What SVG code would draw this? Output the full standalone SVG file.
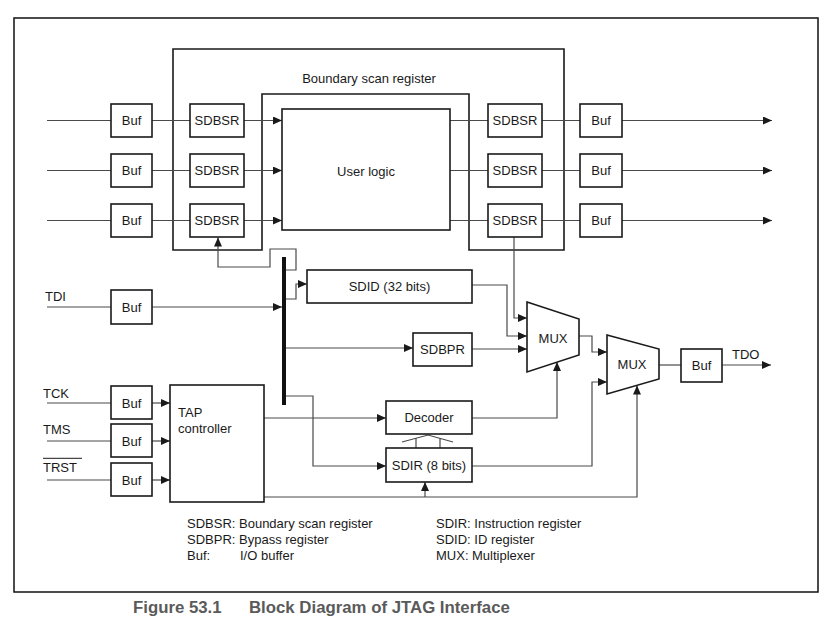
<svg xmlns="http://www.w3.org/2000/svg" width="837" height="625" viewBox="0 0 837 625">
<defs>
<style>
.box{fill:#fff;stroke:#1a1a1a;stroke-width:1.6}
.outline{fill:none;stroke:#1a1a1a;stroke-width:1.6}
.frame{fill:none;stroke:#111;stroke-width:1.5}
.ln{fill:none;stroke:#4a4a4a;stroke-width:1.2}
.arr{marker-end:url(#ah)}
.t{font-family:"Liberation Sans",Arial,sans-serif;font-size:13px;fill:#1a1a1a}
.c{text-anchor:middle}
.cap{font-family:"Liberation Sans",Arial,sans-serif;font-size:16.8px;font-weight:bold;fill:#5a5a5a}
</style>
<marker id="ah" markerUnits="userSpaceOnUse" markerWidth="9" markerHeight="8" refX="9" refY="4" orient="auto">
<path d="M0,0 L9,4 L0,8 z" fill="#1a1a1a"/>
</marker>
</defs>
<rect width="837" height="625" fill="#fff"/>
<rect class="frame" x="14" y="18" width="804" height="574"/>

<g id="boundary-scan-register">
<path class="outline" d="M173 49H564V250H469V94H262V250H173Z"/>
<text class="t c" x="369" y="82.5">Boundary scan register</text>
</g>

<g id="connectors">
<path class="ln" d="M47 120.5H111M47 170.5H111M47 220.5H111"/>
<path class="ln" d="M152 120.5H190M152 170.5H190M152 220.5H190"/>
<path class="ln arr" d="M244 120.5H282"/>
<path class="ln arr" d="M244 170.5H282"/>
<path class="ln arr" d="M244 220.5H282"/>
<path class="ln" d="M450 120.5H488M450 170.5H488M450 220.5H488"/>
<path class="ln" d="M542 120.5H580M542 170.5H580M542 220.5H580"/>
<path class="ln arr" d="M622 120.5H772"/>
<path class="ln arr" d="M622 170.5H772"/>
<path class="ln arr" d="M622 220.5H772"/>
<path class="ln" d="M47 307H111"/>
<path class="ln arr" d="M152 307H282"/>
<path class="ln arr" d="M286 270H296V249H270V267H218V237.5"/>
<path class="ln arr" d="M286 299H296V284H307"/>
<path class="ln arr" d="M286 348H413"/>
<path class="ln arr" d="M286 396H313V466H386"/>
<path class="ln arr" d="M264 418H386"/>
<path class="ln" d="M47 403H111M47 441H111M47 480H111"/>
<path class="ln arr" d="M152 403H170"/>
<path class="ln arr" d="M152 441H170"/>
<path class="ln arr" d="M152 480H170"/>
<path class="ln arr" d="M514 237V318H527"/>
<path class="ln arr" d="M472 285H507V336H527"/>
<path class="ln arr" d="M472 349H527"/>
<path class="ln arr" d="M472 418H557V362"/>
<path class="ln arr" d="M579 336H592V352H607"/>
<path class="ln arr" d="M472 466H592V382H607"/>
<path class="ln arr" d="M264 497H637V385.5"/>
<path class="ln arr" d="M425 497V482"/>
<path class="ln" d="M659 365H681"/>
<path class="ln arr" d="M722 365H771"/>
<path class="ln" d="M402 442L428 435L453 442M416 448V438.2M440 448V438.2"/>
<rect id="bus" x="282" y="257" width="4" height="148" fill="#111"/>
</g>

<g id="user-logic">
<rect class="box" x="282" y="109" width="168" height="121"/>
<text class="t c" x="366" y="175.5">User logic</text>
</g>

<g id="buf-in-1"><rect class="box" x="111" y="104" width="41" height="33"/><text class="t c" x="131.5" y="125">Buf</text></g>
<g id="buf-in-2"><rect class="box" x="111" y="154" width="41" height="33"/><text class="t c" x="131.5" y="175">Buf</text></g>
<g id="buf-in-3"><rect class="box" x="111" y="204" width="41" height="33"/><text class="t c" x="131.5" y="225">Buf</text></g>

<g id="sdbsr-l1"><rect class="box" x="190" y="104" width="54" height="33"/><text class="t c" x="217" y="125">SDBSR</text></g>
<g id="sdbsr-l2"><rect class="box" x="190" y="154" width="54" height="33"/><text class="t c" x="217" y="175">SDBSR</text></g>
<g id="sdbsr-l3"><rect class="box" x="190" y="204" width="54" height="33"/><text class="t c" x="217" y="225">SDBSR</text></g>

<g id="sdbsr-r1"><rect class="box" x="488" y="104" width="54" height="33"/><text class="t c" x="515" y="125">SDBSR</text></g>
<g id="sdbsr-r2"><rect class="box" x="488" y="154" width="54" height="33"/><text class="t c" x="515" y="175">SDBSR</text></g>
<g id="sdbsr-r3"><rect class="box" x="488" y="204" width="54" height="33"/><text class="t c" x="515" y="225">SDBSR</text></g>

<g id="buf-out-1"><rect class="box" x="580" y="104" width="42" height="33"/><text class="t c" x="601" y="125">Buf</text></g>
<g id="buf-out-2"><rect class="box" x="580" y="154" width="42" height="33"/><text class="t c" x="601" y="175">Buf</text></g>
<g id="buf-out-3"><rect class="box" x="580" y="204" width="42" height="33"/><text class="t c" x="601" y="225">Buf</text></g>

<g id="tdi"><text class="t" x="45" y="301">TDI</text><rect class="box" x="111" y="290" width="41" height="34"/><text class="t c" x="131.5" y="311.5">Buf</text></g>

<g id="sdid"><rect class="box" x="307" y="270" width="165" height="33"/><text class="t c" x="389.5" y="291">SDID (32 bits)</text></g>
<g id="sdbpr"><rect class="box" x="413" y="333" width="59" height="33"/><text class="t c" x="442.5" y="354">SDBPR</text></g>
<g id="decoder"><rect class="box" x="386" y="401" width="86" height="33"/><text class="t c" x="429" y="422">Decoder</text></g>
<g id="sdir"><rect class="box" x="386" y="448" width="86" height="34"/><text class="t c" x="429" y="469.5">SDIR (8 bits)</text></g>

<g id="mux1"><polygon class="box" points="527,302 579,319 579,355 527,372"/><text class="t c" x="553" y="342.7">MUX</text></g>
<g id="mux2"><polygon class="box" points="607,335 659,349 659,379 607,394"/><text class="t c" x="632" y="368.7">MUX</text></g>

<g id="buf-tdo"><rect class="box" x="681" y="349" width="41" height="33"/><text class="t c" x="701.5" y="370">Buf</text><text class="t" x="732" y="359.3">TDO</text></g>

<g id="tck"><text class="t" x="43" y="397.7">TCK</text><rect class="box" x="111" y="386" width="41" height="33"/><text class="t c" x="131.5" y="407.5">Buf</text></g>
<g id="tms"><text class="t" x="43" y="434">TMS</text><rect class="box" x="111" y="424" width="41" height="33"/><text class="t c" x="131.5" y="445.5">Buf</text></g>
<g id="trst"><text class="t" x="43" y="471.7">TRST</text><line x1="43" y1="458.3" x2="82" y2="458.3" stroke="#1a1a1a" stroke-width="1"/><rect class="box" x="111" y="463" width="41" height="33"/><text class="t c" x="131.5" y="484.5">Buf</text></g>

<g id="tap-controller"><rect class="box" x="170" y="385" width="94" height="117"/><text class="t" x="178" y="416.7">TAP</text><text class="t" x="178" y="432.7">controller</text></g>

<g id="legend">
<text class="t" x="187" y="527.5">SDBSR: Boundary scan register</text>
<text class="t" x="187" y="543.5">SDBPR: Bypass register</text>
<text class="t" x="187" y="559.5">Buf:</text>
<text class="t" x="240" y="559.5">I/O buffer</text>
<text class="t" x="436" y="527.5">SDIR: Instruction register</text>
<text class="t" x="436" y="543.5">SDID: ID register</text>
<text class="t" x="436" y="559.5">MUX:</text>
<text class="t" x="472" y="559.5">Multiplexer</text>
</g>

<g id="caption">
<text class="cap" x="133" y="613">Figure 53.1</text>
<text class="cap" x="249" y="613">Block Diagram of JTAG Interface</text>
</g>
</svg>
